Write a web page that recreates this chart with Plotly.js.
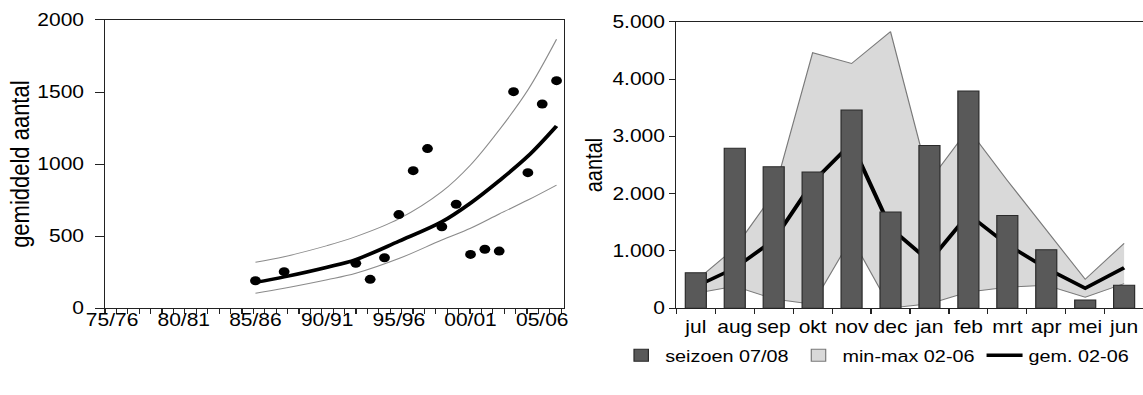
<!DOCTYPE html>
<html><head><meta charset="utf-8">
<script src="https://cdn.plot.ly/plotly-3.0.1.min.js"></script>
<style>
html,body{margin:0;padding:0;overflow:hidden;background:#fff;}
#chart{width:952.5px;height:395px;transform:scaleX(1.2);transform-origin:0 0;}
</style></head><body><div id="chart"></div>
<script>
// ---- left chart: yearly mean with exponential trend ----
const seasonYears = [1985, 1987, 1992, 1993, 1994, 1995, 1996, 1997, 1998, 1999, 2000, 2001, 2002, 2003, 2004, 2005, 2006];
const seasonMeans = [191, 254, 312, 201, 351, 650, 955, 1108, 566, 722, 374, 410, 397, 1503, 941, 1417, 1579];
const fitYears   = [1985, 1987, 1990, 1992, 1995, 1998, 2000, 2002, 2004, 2006];
const fitCentral = [180, 218, 285, 338, 465, 600, 730, 885, 1055, 1265];
const fitUpper   = [319, 358, 435, 497, 620, 809, 994, 1237, 1514, 1866];
const fitLower   = [104, 139, 198, 243, 345, 474, 555, 654, 751, 855];
const xTickYears  = [1975, 1980, 1985, 1990, 1995, 2000, 2005];
const xTickLabels = ['75/76', '80/81', '85/86', '90/91', '95/96', '00/01', '05/06'];

// ---- right chart: monthly counts ----
const months     = ['jul', 'aug', 'sep', 'okt', 'nov', 'dec', 'jan', 'feb', 'mrt', 'apr', 'mei', 'jun'];
const season0708 = [622, 2791, 2471, 2378, 3459, 1680, 2840, 3791, 1619, 1023, 145, 404];
const min0206    = [262, 384, 163, 70, 1230, 5, 80, 285, 366, 401, 192, 430];
const max0206    = [480, 1050, 2000, 4460, 4270, 4826, 2220, 3130, 2230, 1370, 506, 1134];
const mean0206   = [380, 700, 1190, 2200, 2880, 1400, 820, 1640, 1110, 700, 349, 709];

const FONT = 'Liberation Sans, Arial, sans-serif';
const AX = '#222';

const traces = [
  {x: fitYears, y: fitUpper, xaxis: 'x', yaxis: 'y', mode: 'lines', line: {color: '#8c8c8c', width: 1, shape: 'spline'}, showlegend: false, hoverinfo: 'skip'},
  {x: fitYears, y: fitLower, xaxis: 'x', yaxis: 'y', mode: 'lines', line: {color: '#8c8c8c', width: 1, shape: 'spline'}, showlegend: false, hoverinfo: 'skip'},
  {x: fitYears, y: fitCentral, xaxis: 'x', yaxis: 'y', mode: 'lines', line: {color: '#000', width: 3.5, shape: 'spline'}, showlegend: false},
  {x: seasonYears, y: seasonMeans, xaxis: 'x', yaxis: 'y', mode: 'markers', marker: {color: '#000', size: 9}, showlegend: false},

  {x: months, y: min0206, xaxis: 'x2', yaxis: 'y2', mode: 'lines', line: {color: '#7a7a7a', width: 1}, showlegend: false, name: 'min 02-06'},
  {x: months, y: max0206, xaxis: 'x2', yaxis: 'y2', mode: 'lines', fill: 'tonexty', fillcolor: '#d9d9d9', line: {color: '#7a7a7a', width: 1}, showlegend: false, name: 'max 02-06'},
  {x: months, y: mean0206, xaxis: 'x2', yaxis: 'y2', mode: 'lines', line: {color: '#000', width: 3.5}, name: 'gem. 02-06', legendrank: 3},
  {x: months, y: season0708, xaxis: 'x3', yaxis: 'y3', type: 'bar', marker: {color: '#595959', line: {color: '#2a2a2a', width: 1}}, name: 'seizoen 07/08', legendrank: 1},
  {x: [months[0]], y: [null], xaxis: 'x3', yaxis: 'y3', type: 'bar', marker: {color: '#d9d9d9', line: {color: '#7a7a7a', width: 1}}, name: 'min-max 02-06', legendrank: 2, hoverinfo: 'skip'}
];

const layout = {
  width: 952.5, height: 395,
  margin: {l: 0, r: 0, t: 0, b: 0},
  paper_bgcolor: '#fff', plot_bgcolor: 'rgba(0,0,0,0)',
  font: {family: FONT, size: 17.5, color: '#000'},
  separators: ',.',
  barmode: 'overlay',
  bargap: 0.46,
  showlegend: true,
  legend: {orientation: 'h', x: 0.993, xanchor: 'right', y: 0.1, yanchor: 'middle',
           font: {family: FONT, size: 16.5, color: '#000'}, bgcolor: 'rgba(0,0,0,0)', itemwidth: 30, traceorder: 'normal'},
  xaxis: {domain: [0.09186, 0.49344], range: [1974.51, 2006.54], anchor: 'y',
          showline: true, linecolor: AX, linewidth: 1, mirror: true, showgrid: false, zeroline: false,
          tickmode: 'array', tickvals: xTickYears, ticktext: xTickLabels, ticks: '', tickangle: 0, ticklabelstandoff: -4,
          minor: {ticks: 'outside', ticklen: 5, tick0: 1974.51, dtick: 0.7955, tickcolor: AX, showgrid: false}},
  yaxis: {domain: [0.21949, 0.94937], range: [0, 2000], anchor: 'x',
          showline: true, linecolor: AX, linewidth: 1, mirror: true, showgrid: false, zeroline: false,
          dtick: 500, tickformat: 'd', ticks: 'outside', ticklen: 7, tickcolor: AX, ticklabelstandoff: 6,
          title: {text: 'gemiddeld aantal', standoff: 0, font: {family: FONT, size: 22}}},
  xaxis2: {domain: [0.59143, 1.0], range: [-0.5, 11.5], anchor: 'y2', type: 'category', categoryarray: months,
           showline: true, linecolor: AX, linewidth: 1, mirror: true, showgrid: false, tickangle: 0, ticklabelstandoff: 3,
           ticks: 'outside', ticklen: 5, tickcolor: AX, tickson: 'boundaries'},
  yaxis2: {domain: [0.21949, 0.94506], range: [0, 5000], anchor: 'x2',
           showline: true, linecolor: AX, linewidth: 1, mirror: true, showgrid: false, zeroline: false,
           dtick: 1000, tickformat: ',d', ticks: 'outside', ticklen: 5, tickcolor: AX,
           title: {text: 'aantal', standoff: 2, font: {family: FONT, size: 20}}},
  xaxis3: {overlaying: 'x2', range: [-0.5, 11.5], type: 'category', categoryarray: months, visible: false},
  yaxis3: {overlaying: 'y2', range: [0, 5000], visible: false}
};

Plotly.newPlot('chart', traces, layout, {staticPlot: true, displayModeBar: false});
</script></body></html>
